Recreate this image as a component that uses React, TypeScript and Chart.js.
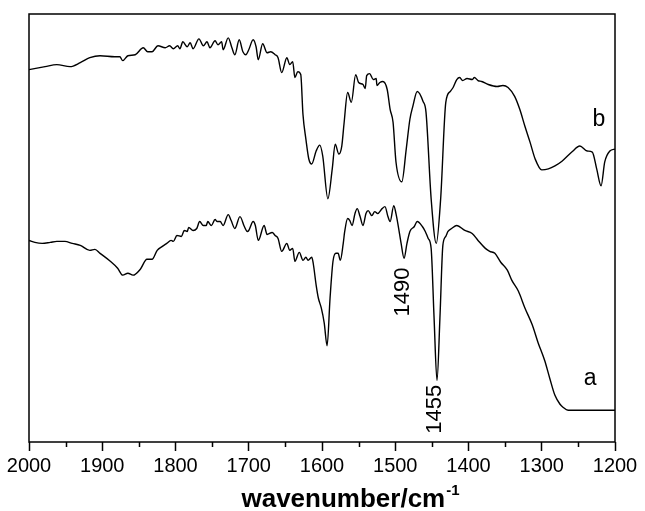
import { useEffect, useRef } from "react";
import { Chart, registerables } from "chart.js";

Chart.register(...registerables);

// Curve b (upper spectrum): wavenumber (cm-1) and relative transmittance (a.u.)
const waveB = [
  2000, 1978, 1962, 1944, 1930, 1917, 1903, 1883, 1876, 1872, 1865, 1855, 1844, 1838,
  1832, 1824, 1814, 1808, 1803, 1797, 1794, 1790, 1784, 1780, 1776, 1768, 1762, 1757,
  1753, 1746, 1742, 1737, 1735, 1728, 1723, 1719, 1713, 1708, 1704, 1700, 1694, 1690,
  1687, 1681, 1675, 1670, 1664, 1660, 1655, 1648, 1644, 1640, 1637, 1633, 1629, 1626,
  1622, 1618, 1614, 1608, 1603, 1599, 1592, 1586, 1582, 1577, 1573, 1570, 1565, 1560,
  1554, 1550, 1544, 1541, 1539, 1535, 1530, 1526, 1525, 1521, 1517, 1511, 1507, 1503,
  1499, 1491, 1485, 1480, 1476, 1470, 1462, 1458, 1451, 1444, 1438, 1431, 1425, 1421,
  1416, 1412, 1408, 1402, 1395, 1392, 1387, 1382, 1373, 1361, 1353, 1346, 1337, 1330,
  1323, 1316, 1309, 1300, 1291, 1282, 1272, 1259, 1248, 1238, 1231, 1225, 1219, 1214,
  1207, 1200,
];
const transB = [
  375, 378, 380, 378, 382, 387, 389, 388, 388, 384, 389, 390, 397, 393,
  393, 399, 397, 399, 396, 399, 396, 403, 398, 402, 396, 406, 399, 403,
  397, 404, 400, 403, 395, 407, 397, 390, 405, 393, 390, 395, 405, 398,
  385, 401, 392, 393, 390, 387, 372, 387, 380, 383, 367, 373, 370, 330,
  305, 285, 280, 293, 299, 288, 245, 275, 300, 290, 298, 320, 352, 342,
  370, 362, 360, 356, 369, 371, 365, 366, 359, 362, 363, 355, 335, 322,
  282, 262, 295, 325, 338, 353, 343, 332, 245, 200, 245, 342, 353, 357,
  365, 367, 364, 366, 365, 367, 364, 363, 360, 358, 359, 357, 348, 335,
  318, 302, 285, 274, 275, 278, 283, 292, 298, 293, 292, 275, 258, 282,
  293, 295,
];

// Curve a (lower spectrum)
const waveA = [
  2000, 1992, 1982, 1971, 1962, 1951, 1941, 1930, 1917, 1910, 1903, 1889, 1879, 1872,
  1865, 1858, 1848, 1839, 1832, 1825, 1818, 1812, 1806, 1803, 1798, 1792, 1788, 1784,
  1782, 1776, 1771, 1767, 1762, 1758, 1756, 1751, 1746, 1743, 1739, 1735, 1728, 1724,
  1719, 1712, 1706, 1702, 1700, 1694, 1691, 1687, 1679, 1675, 1668, 1664, 1660, 1655,
  1648, 1644, 1640, 1637, 1631, 1626, 1622, 1619, 1614, 1612, 1608, 1605, 1601, 1597,
  1593, 1589, 1585, 1581, 1578, 1575, 1571, 1569, 1565, 1562, 1559, 1555, 1552, 1548,
  1544, 1540, 1537, 1532, 1528, 1524, 1518, 1514, 1510, 1507, 1502, 1499, 1496, 1492,
  1488, 1484, 1480, 1474, 1470, 1463, 1459, 1455, 1451, 1447, 1443, 1439, 1435, 1431,
  1428, 1423, 1416, 1405, 1395, 1387, 1377, 1371, 1364, 1356, 1347, 1341, 1332, 1323,
  1313, 1305, 1296, 1289, 1282, 1275, 1271, 1264, 1234, 1200,
];
const transA = [
  203, 201, 200, 201, 202, 202, 200, 198, 193, 194, 190, 182, 175, 168,
  170, 168, 174, 184, 184, 193, 197, 200, 203, 202, 208, 207, 213, 212,
  216, 213, 215, 222, 218, 218, 222, 218, 224, 222, 222, 218, 229, 223,
  215, 227, 217, 212, 213, 222, 218, 203, 218, 209, 211, 208, 205, 192,
  200, 193, 195, 182, 191, 183, 186, 183, 186, 180, 158, 145, 135, 120,
  97, 145, 182, 190, 190, 183, 200, 212, 225, 223, 218, 230, 235, 227,
  218, 230, 233, 228, 232, 230, 235, 237, 227, 222, 238, 230, 218, 200,
  185, 200, 212, 217, 222, 217, 212, 205, 195, 125, 62, 125, 198, 207,
  212, 215, 218, 213, 210, 203, 195, 192, 190, 181, 173, 163, 152, 135,
  118, 100, 82, 64, 47, 38, 35, 32, 32, 32,
];

const majorTicks = [2000, 1900, 1800, 1700, 1600, 1500, 1400, 1300, 1200];
const minorTicks = [1950, 1850, 1750, 1650, 1550, 1450, 1350, 1250];

const annotations = [
  { text: "1490", x: 1489, y: 151, rotate: true },
  { text: "1455", x: 1446, y: 33, rotate: true },
  { text: "b", x: 1222, y: 325, rotate: false },
  { text: "a", x: 1234, y: 64, rotate: false },
];

const axisTitle = "wavenumber/cm";
const axisTitleSup = "-1";

const FONT = "'Liberation Sans', Arial, Helvetica, sans-serif";

const decorPlugin = {
  id: "decor",
  afterDraw(chart: any) {
    const { ctx, chartArea, scales } = chart;
    const { left, right, top, bottom } = chartArea;
    const xs = scales.x;
    const ys = scales.y;
    ctx.save();
    ctx.strokeStyle = "#000";
    ctx.lineWidth = 1.5;
    ctx.strokeRect(left, top, right - left, bottom - top);

    ctx.beginPath();
    for (const t of minorTicks) {
      const px = Math.round(xs.getPixelForValue(t)) + 0.5;
      ctx.moveTo(px, bottom);
      ctx.lineTo(px, bottom + 5);
    }
    ctx.stroke();

    ctx.fillStyle = "#000";
    for (const a of annotations) {
      const px = xs.getPixelForValue(a.x);
      const py = ys.getPixelForValue(a.y);
      ctx.save();
      ctx.translate(px, py);
      if (a.rotate) {
        ctx.rotate(-Math.PI / 2);
        ctx.font = `22px ${FONT}`;
      } else {
        ctx.font = `23px ${FONT}`;
      }
      ctx.textAlign = "center";
      ctx.textBaseline = "middle";
      ctx.fillText(a.text, 0, 0);
      ctx.restore();
    }

    ctx.font = `bold 26px ${FONT}`;
    ctx.textAlign = "left";
    ctx.textBaseline = "alphabetic";
    const w1 = ctx.measureText(axisTitle).width;
    ctx.font = `bold 15px ${FONT}`;
    const w2 = ctx.measureText(axisTitleSup).width;
    const startX = 350 - (w1 + w2) / 2;
    ctx.font = `bold 26px ${FONT}`;
    ctx.fillText(axisTitle, startX, 507);
    ctx.font = `bold 15px ${FONT}`;
    ctx.fillText(axisTitleSup, startX + w1 + 1, 495);
    ctx.restore();
  },
};

export default function App() {
  const ref = useRef<HTMLCanvasElement | null>(null);

  useEffect(() => {
    document.body.style.margin = "0";
    const canvas = ref.current;
    if (!canvas) return;
    const chart = new Chart(canvas, {
      type: "line",
      data: {
        datasets: [
          {
            label: "b",
            data: waveB.map((w, i) => ({ x: w, y: transB[i] })),
            borderColor: "#000",
            borderWidth: 1.4,
            pointRadius: 0,
            cubicInterpolationMode: "monotone",
            fill: false,
          },
          {
            label: "a",
            data: waveA.map((w, i) => ({ x: w, y: transA[i] })),
            borderColor: "#000",
            borderWidth: 1.4,
            pointRadius: 0,
            cubicInterpolationMode: "monotone",
            fill: false,
          },
        ],
      },
      options: {
        animation: false,
        responsive: false,
        devicePixelRatio: 1,
        layout: { padding: { left: 29, right: 30, top: 14, bottom: 30 } },
        plugins: {
          legend: { display: false },
          tooltip: { enabled: false },
        },
        scales: {
          x: {
            type: "linear",
            reverse: true,
            min: 1200,
            max: 2000,
            border: { display: false },
            grid: {
              display: true,
              drawOnChartArea: false,
              drawTicks: true,
              tickLength: 9,
              tickWidth: 1.5,
              tickColor: "#000",
              color: "#000",
            },
            afterBuildTicks: (scale: any) => {
              scale.ticks = majorTicks.map((v) => ({ value: v }));
            },
            ticks: {
              autoSkip: false,
              maxRotation: 0,
              padding: 3,
              color: "#000",
              font: { family: FONT, size: 20 },
              callback: (v: any) => String(v),
            },
          },
          y: {
            display: false,
            min: 0,
            max: 431,
          },
        },
      },
      plugins: [decorPlugin],
    } as any);
    return () => chart.destroy();
  }, []);

  return (
    <div style={{ position: "fixed", left: 0, top: 0, width: 645, height: 511, background: "#fff" }}>
      <canvas ref={ref} width={645} height={511} style={{ display: "block" }} />
    </div>
  );
}
